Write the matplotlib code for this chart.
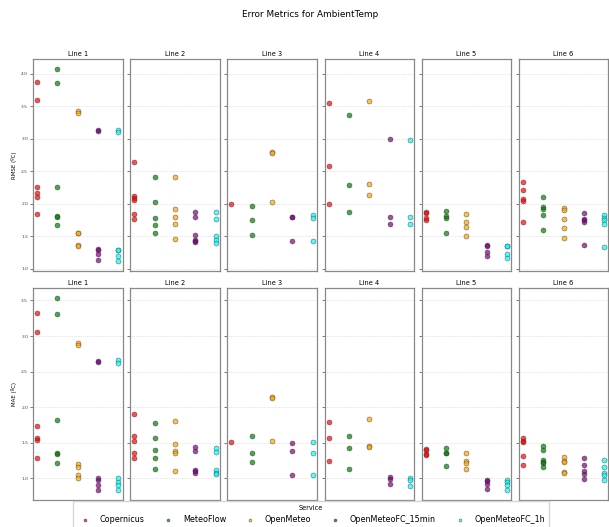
import matplotlib
matplotlib.use("Agg")
import matplotlib.pyplot as plt

services = ["Copernicus", "MeteoFlow", "OpenMeteo", "OpenMeteoFC_15min", "OpenMeteoFC_1h"]
lines = ["Line 1", "Line 2", "Line 3", "Line 4", "Line 5", "Line 6"]
colors = ["red", "green", "orange", "purple", "cyan"]

# RMSE values per service, one list per line
rmse_copernicus = [[3.87, 3.60, 2.26, 2.17, 2.10, 1.84], [2.64, 2.11, 2.08, 2.05, 1.84, 1.77], [2.00],
                   [3.55, 2.58, 2.00], [1.87, 1.85, 1.78, 1.75], [2.34, 2.21, 2.07, 2.04, 1.72]]
rmse_meteoflow = [[4.08, 3.86, 2.25, 1.81, 1.80, 1.67], [2.41, 2.02, 1.78, 1.67, 1.55], [1.96, 1.74, 1.52],
                  [3.36, 2.28, 1.87], [1.88, 1.81, 1.78, 1.55], [2.10, 1.95, 1.92, 1.82, 1.59]]
rmse_openmeteo = [[3.42, 3.39, 1.55, 1.54, 1.37, 1.35], [2.41, 1.91, 1.79, 1.69, 1.45], [2.79, 2.78, 2.02],
                  [3.58, 2.31, 2.14], [1.84, 1.72, 1.64, 1.50], [1.93, 1.90, 1.77, 1.62, 1.47]]
rmse_fc15 = [[3.14, 3.12, 1.30, 1.29, 1.22, 1.13], [1.87, 1.80, 1.51, 1.44, 1.43, 1.41], [1.80, 1.79, 1.43],
             [2.99, 1.79, 1.69], [1.36, 1.35, 1.26, 1.20], [1.85, 1.77, 1.75, 1.71, 1.37]]
rmse_fc1h = [[3.14, 3.10, 1.29, 1.28, 1.20, 1.11], [1.87, 1.77, 1.50, 1.44, 1.39], [1.82, 1.78, 1.42],
             [2.98, 1.79, 1.69], [1.35, 1.34, 1.23, 1.16], [1.83, 1.78, 1.74, 1.69, 1.33]]

# MAE values per service, one list per line
mae_copernicus = [[3.32, 3.05, 1.73, 1.57, 1.54, 1.29], [1.90, 1.59, 1.53, 1.36, 1.28], [1.51],
                  [1.79, 1.56, 1.24], [1.41, 1.40, 1.34, 1.33], [1.56, 1.53, 1.51, 1.32, 1.18]]
mae_meteoflow = [[3.54, 3.31, 1.82, 1.36, 1.34, 1.21], [1.78, 1.56, 1.40, 1.28, 1.13], [1.60, 1.36, 1.23],
                 [1.60, 1.42, 1.13], [1.42, 1.36, 1.35, 1.17], [1.46, 1.40, 1.25, 1.23, 1.21, 1.16]]
mae_openmeteo = [[2.90, 2.87, 1.20, 1.16, 1.04, 1.01], [1.80, 1.48, 1.38, 1.35, 1.10], [2.14, 2.13, 1.52],
                 [1.83, 1.45, 1.44], [1.36, 1.24, 1.21, 1.13], [1.30, 1.24, 1.23, 1.09, 1.08]]
mae_fc15 = [[2.65, 2.63, 1.01, 0.98, 0.91, 0.84], [1.44, 1.38, 1.12, 1.10, 1.08], [1.50, 1.38, 1.05],
            [1.02, 0.99, 0.92], [0.97, 0.96, 0.92, 0.85], [1.28, 1.18, 1.10, 1.06, 0.99]]
mae_fc1h = [[2.66, 2.62, 1.00, 0.95, 0.90, 0.83], [1.42, 1.37, 1.11, 1.08, 1.06], [1.51, 1.36, 1.04],
            [1.01, 0.97, 0.89], [0.97, 0.95, 0.90, 0.84], [1.26, 1.16, 1.08, 1.04, 0.97]]

rmse = [rmse_copernicus, rmse_meteoflow, rmse_openmeteo, rmse_fc15, rmse_fc1h]
mae = [mae_copernicus, mae_meteoflow, mae_openmeteo, mae_fc15, mae_fc1h]
metrics = [("RMSE (ºC)", rmse), ("MAE (ºC)", mae)]

fig, axes = plt.subplots(2, 6, figsize=(6.09, 5.27), dpi=100, sharey="row")
fig.subplots_adjust(left=33 / 609, right=0.999, top=1 - 59 / 527, bottom=1 - 500 / 527,
                    wspace=0.085, hspace=0.08)

handles = []
for r, (ylabel, data) in enumerate(metrics):
    for c, line in enumerate(lines):
        ax = axes[r, c]
        ax.set_axisbelow(True)
        for s, svc in enumerate(services):
            vals = data[s][c]
            h = ax.scatter([s] * len(vals), vals, s=13, color=colors[s], alpha=0.7,
                           edgecolors="#333333", linewidths=0.4, label=svc, zorder=3)
            if r == 0 and c == 0:
                handles.append(h)
        ax.set_title(line, fontsize=4.75, pad=2.5)
        ax.set_xticks([])
        ax.yaxis.grid(True, linestyle=":", linewidth=0.5, color="#cccccc")
        ax.tick_params(axis="y", labelsize=3.2, length=2, width=0.5, pad=1.5, colors="#444444")
        for sp in ax.spines.values():
            sp.set_color("#888888")
            sp.set_linewidth(0.9)
        if c == 0:
            ax.set_ylabel(ylabel, fontsize=4, labelpad=3)

fig.suptitle("Error Metrics for AmbientTemp", fontsize=6.4, x=310 / 609, y=1 - 10 / 527)
fig.legend(handles=handles, labels=services, loc="upper center", ncol=5,
           bbox_to_anchor=(311 / 609, 1 - 501 / 527), borderaxespad=0, fontsize=5.8,
           title="Service", title_fontsize=4.7, markerscale=0.6, frameon=True,
           borderpad=0.5, labelspacing=0.5)

fig.savefig("out.png", dpi=100)
